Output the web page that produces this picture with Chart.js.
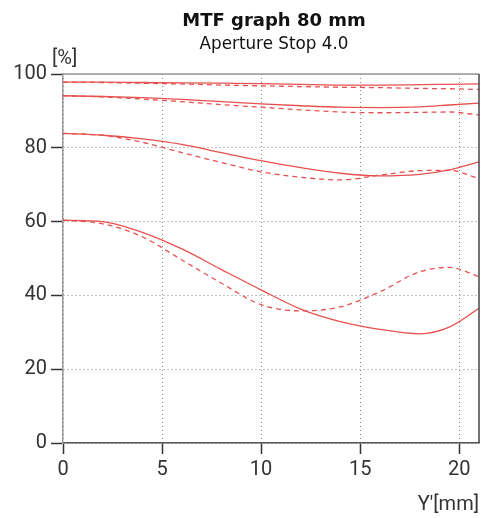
<!DOCTYPE html>
<html>
<head>
<meta charset="utf-8">
<script src="https://cdn.jsdelivr.net/npm/chart.js@4.4.1/dist/chart.umd.min.js"></script>
<style>
  html, body { margin: 0; padding: 0; background: #fff; }
  #wrap { width: 485px; height: 518px; position: relative; }
</style>
</head>
<body>
<div id="wrap"><canvas id="mtfChart"></canvas></div>
<script>
// Field position Y' [mm]
const posiciones = [0, 2, 4, 6, 8, 10, 12, 14, 16, 18, 19.5, 21];

// MTF values [%] - solid = sagittal, dashed = tangential
const sag10 = [97.8, 97.8, 97.7, 97.6, 97.5, 97.4, 97.2, 97.0, 97.0, 97.1, 97.2, 97.3];
const tan10 = [97.8, 97.7, 97.5, 97.3, 97.0, 96.8, 96.6, 96.4, 96.3, 96.1, 96.0, 95.8];
const sag20 = [94.1, 93.9, 93.6, 93.1, 92.5, 91.9, 91.4, 91.0, 90.9, 91.1, 91.6, 92.1];
const tan20 = [94.1, 93.8, 93.2, 92.5, 91.7, 91.0, 90.3, 89.7, 89.5, 89.6, 89.7, 88.9];
const sag40 = [83.9, 83.4, 82.4, 80.9, 78.7, 76.5, 74.6, 73.1, 72.4, 72.8, 74.0, 76.2];
const tan40 = [83.9, 83.4, 81.5, 78.7, 76.0, 73.5, 72.0, 71.3, 72.6, 73.8, 73.9, 71.7];
const sag80 = [60.4, 60.0, 57.1, 52.6, 47.0, 41.5, 36.3, 32.9, 30.8, 29.6, 31.4, 36.5];
const tan80 = [60.4, 59.4, 55.9, 49.6, 43.3, 37.5, 35.8, 36.9, 41.0, 46.4, 47.6, 45.1];

// Axis ticks
const ticksX = [0, 5, 10, 15, 20];
const ticksY = [0, 20, 40, 60, 80, 100];

const titulo = "MTF graph 80 mm";
const subtitulo = "Aperture Stop 4.0";
const unidadY = "[%]";
const unidadX = "Y'[mm]";

const rojo = '#e8504f';
const fuente = 'Roboto, "Liberation Sans", sans-serif';
const fuenteTitulo = '"DejaVu Sans", sans-serif';

const serie = (valores, punteada) => ({
    data: posiciones.map((x, i) => ({ x: x, y: valores[i] })),
    borderColor: rojo,
    borderWidth: 1.3,
    borderDash: punteada ? [5, 4] : [],
    pointRadius: 0,
    fill: false,
    cubicInterpolationMode: 'monotone'
});

// Texts and the top/right frame
const marco = {
    id: 'marco',
    afterDraw(chart) {
        const { ctx, chartArea: a } = chart;
        ctx.save();
        ctx.lineWidth = 1.5;
        ctx.strokeStyle = '#999';
        ctx.beginPath();
        ctx.moveTo(a.left, a.top);
        ctx.lineTo(a.right, a.top);
        ctx.stroke();
        ctx.strokeStyle = '#444';
        ctx.beginPath();
        ctx.moveTo(a.right, a.top);
        ctx.lineTo(a.right, a.bottom);
        ctx.stroke();

        const cx = (a.left + a.right) / 2 + 3;
        ctx.fillStyle = '#111';
        ctx.textAlign = 'center';
        ctx.textBaseline = 'alphabetic';
        ctx.font = 'bold 18px ' + fuenteTitulo;
        ctx.fillText(titulo, cx, 26);
        ctx.font = '16.8px ' + fuenteTitulo;
        ctx.fillText(subtitulo, cx, 49);
        ctx.fillStyle = '#333';
        ctx.textAlign = 'left';
        ctx.font = '20px ' + fuente;
        ctx.fillText(unidadY, a.left - 11, 64);
        ctx.restore();
    }
};

new Chart(document.getElementById('mtfChart'), {
    type: 'line',
    data: {
        datasets: [
            serie(sag10, false), serie(tan10, true),
            serie(sag20, false), serie(tan20, true),
            serie(sag40, false), serie(tan40, true),
            serie(sag80, false), serie(tan80, true)
        ]
    },
    options: {
        responsive: true,
        maintainAspectRatio: false,
        animation: false,
        layout: { padding: { top: 74, right: 6, left: 0, bottom: 0 } },
        plugins: {
            legend: { display: false },
            tooltip: { enabled: false }
        },
        scales: {
            x: {
                type: 'linear',
                min: 0,
                max: 21,
                afterBuildTicks: s => { s.ticks = ticksX.map(v => ({ value: v })); },
                afterFit: s => { s.height = 75; },
                ticks: {
                    color: '#333',
                    padding: 4,
                    maxRotation: 0,
                    font: { family: fuente, size: 20 }
                },
                grid: {
                    color: '#888',
                    lineWidth: 1,
                    tickColor: '#333',
                    tickLength: 11,
                    tickWidth: 1.5
                },
                border: { color: '#555', width: 1.5, dash: [1, 3] },
                title: {
                    display: true,
                    text: unidadX,
                    align: 'end',
                    color: '#333',
                    padding: { top: 0, bottom: 1 },
                    font: { family: fuente, size: 20 }
                }
            },
            y: {
                min: 0,
                max: 100,
                afterBuildTicks: s => { s.ticks = ticksY.map(v => ({ value: v })); },
                afterFit: s => { s.width = 63; },
                ticks: {
                    color: '#333',
                    padding: 4,
                    font: { family: fuente, size: 20 }
                },
                grid: {
                    color: '#888',
                    lineWidth: 1,
                    tickColor: '#333',
                    tickLength: 12,
                    tickWidth: 1.5
                },
                border: { color: '#999', width: 1.5, dash: [1, 3] }
            }
        }
    },
    plugins: [marco]
});
</script>
</body>
</html>
